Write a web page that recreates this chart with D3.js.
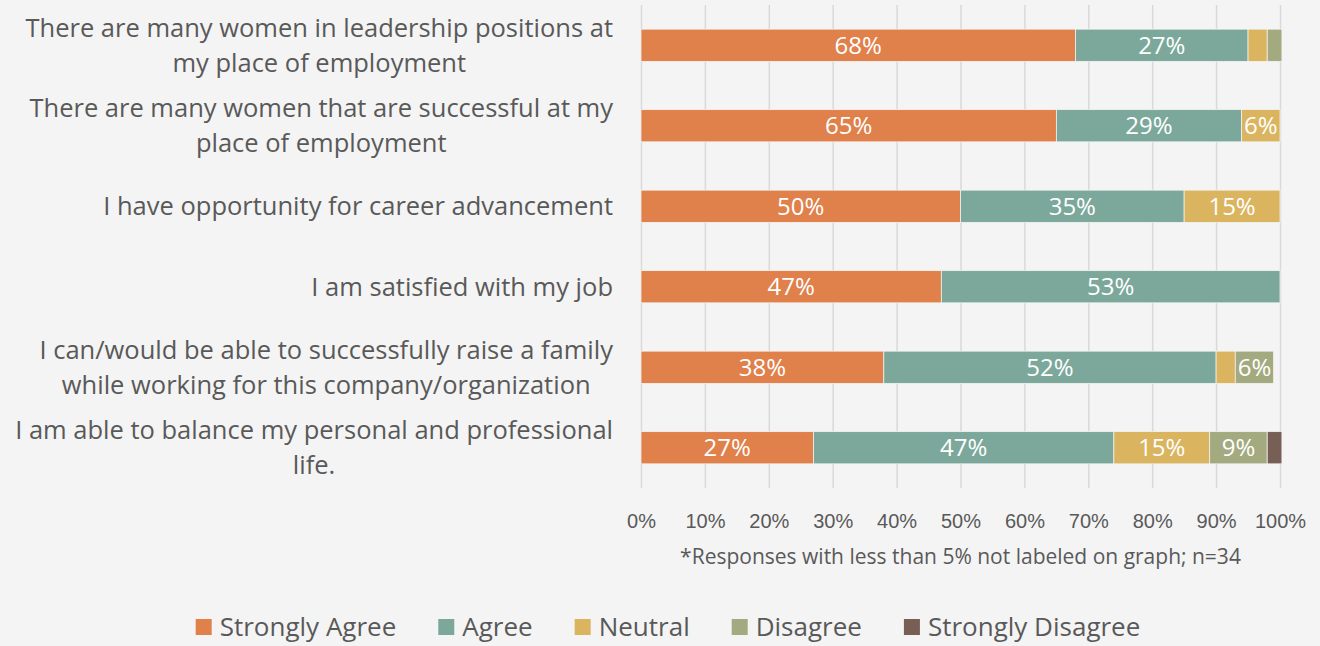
<!DOCTYPE html>
<html>
<head>
<meta charset="utf-8">
<script src="https://cdn.jsdelivr.net/npm/d3@7"></script>
<style>
   body { margin: 0; background: #f4f4f4; }
   svg { font-family: "Open Sans", sans-serif; display: block; }
   .catLabel { fill: #595959; font-size: 25.5px; }
   .tickLabel { fill: #595959; font-size: 20px; }
   .valueLabel { fill: #ffffff; font-size: 24px; }
   .note { fill: #595959; font-size: 21px; }
   .legendText { fill: #595959; font-size: 26px; }
</style>
</head>
<body>
<div id="chart"></div>
<script>
// statements, already wrapped the way the original shows them
const statements = [
   ["There are many women in leadership positions at", "my place of employment"],
   ["There are many women that are successful at my", "place of employment"],
   ["I have opportunity for career advancement"],
   ["I am satisfied with my job"],
   ["I can/would be able to successfully raise a family", "while working for this company/organization"],
   ["I am able to balance my personal and professional", "life."]
];

const seriesNames = ["Strongly Agree", "Agree", "Neutral", "Disagree", "Strongly Disagree"];
const colours = ["#e0804a", "#7ba89b", "#dab45e", "#a3aa80", "#785f55"];

// percentages
const stronglyAgree    = [68, 65, 50, 47, 38, 27];
const agree            = [27, 29, 35, 53, 52, 47];
const neutral          = [3, 6, 15, 0, 3, 15];
const disagree         = [2.3, 0, 0, 0, 6, 9];
const stronglyDisagree = [0, 0, 0, 0, 0, 2.3];

const xTicks = [0, 10, 20, 30, 40, 50, 60, 70, 80, 90, 100];
const footnote = "*Responses with less than 5% not labeled on graph; n=34";

const width = 1320;
const height = 646;

const plot = { left: 641, right: 1280, top: 5, bottom: 488 };

const svg = d3.select("#chart").append("svg")
   .attr("width", width)
   .attr("height", height);

svg.append("rect")
   .attr("width", width)
   .attr("height", height)
   .attr("fill", "#f4f4f4");

const table = statements.map((s, i) => ({
   idx: i,
   "Strongly Agree": stronglyAgree[i],
   "Agree": agree[i],
   "Neutral": neutral[i],
   "Disagree": disagree[i],
   "Strongly Disagree": stronglyDisagree[i]
}));

const x = d3.scaleLinear()
   .domain([0, 100])
   .range([plot.left, plot.right]);

const y = d3.scaleBand()
   .domain(d3.range(statements.length))
   .range([plot.top, plot.bottom])
   .paddingInner(0.6)
   .paddingOuter(0.3);

const colour = d3.scaleOrdinal().domain(seriesNames).range(colours);

// grid + tick labels
const xAxis = d3.axisBottom(x)
   .tickValues(xTicks)
   .tickSize(-(plot.bottom - plot.top))
   .tickFormat(d => d + "%");

const axisG = svg.append("g")
   .attr("transform", `translate(0, ${plot.bottom})`)
   .call(xAxis);

axisG.select(".domain").remove();
axisG.selectAll(".tick line")
   .attr("stroke", "#d9d9d9")
   .attr("stroke-width", 1.5);
axisG.selectAll(".tick text")
   .attr("class", "tickLabel")
   .attr("y", 33)
   .attr("dy", "0.35em")
   .attr("font-family", null)
   .attr("font-size", null)
   .attr("fill", null);

// stacked bars
const stacked = d3.stack().keys(seriesNames)(table);

const layers = svg.selectAll("g.layer")
   .data(stacked)
   .enter()
   .append("g")
   .attr("class", "layer")
   .attr("fill", d => colour(d.key));

layers.selectAll("rect")
   .data(d => d.filter(s => s[1] - s[0] > 0))
   .enter()
   .append("rect")
   .attr("x", d => x(d[0]))
   .attr("y", d => y(d.data.idx))
   .attr("width", d => x(d[1]) - x(d[0]))
   .attr("height", y.bandwidth())
   .attr("stroke", "#f4f4f4")
   .attr("stroke-width", 0.75);

layers.selectAll("text")
   .data(d => d.filter(s => s[1] - s[0] >= 5))
   .enter()
   .append("text")
   .attr("class", "valueLabel")
   .attr("x", d => (x(d[0]) + x(d[1])) / 2)
   .attr("y", d => y(d.data.idx) + y.bandwidth() / 2)
   .attr("dy", "0.36em")
   .style("text-anchor", "middle")
   .text(d => Math.round(d[1] - d[0]) + "%");

// category labels: right aligned block, lines centred inside it
const labelRight = 613;
const lineGap = 35;

statements.forEach((lines, i) => {
   const cy = y(i) + y.bandwidth() / 2;
   const g = svg.append("g");
   const texts = g.selectAll("text")
      .data(lines)
      .enter()
      .append("text")
      .attr("class", "catLabel")
      .attr("y", (d, j) => cy + (j - (lines.length - 1) / 2) * lineGap)
      .attr("dy", "0.35em")
      .style("text-anchor", "middle")
      .text(d => d);
   let maxW = 0;
   texts.each(function () { maxW = Math.max(maxW, this.getComputedTextLength()); });
   texts.attr("x", labelRight - maxW / 2);
});

svg.append("text")
   .attr("class", "note")
   .attr("x", (plot.left + plot.right) / 2)
   .attr("y", 557)
   .attr("dy", "0.35em")
   .style("text-anchor", "middle")
   .text(footnote);

// legend
const legendY = 627;
const sw = 16;
const legend = svg.append("g");
let lx = 0;
seriesNames.forEach((name, i) => {
   legend.append("rect")
      .attr("x", lx)
      .attr("y", legendY - sw / 2)
      .attr("width", sw)
      .attr("height", sw)
      .attr("fill", colours[i]);
   const t = legend.append("text")
      .attr("class", "legendText")
      .attr("x", lx + sw + 8)
      .attr("y", legendY)
      .attr("dy", "0.35em")
      .text(name);
   lx += sw + 8 + t.node().getComputedTextLength() + 42;
});
lx -= 42;
legend.attr("transform", `translate(${668 - lx / 2}, 0)`);
</script>
</body>
</html>
